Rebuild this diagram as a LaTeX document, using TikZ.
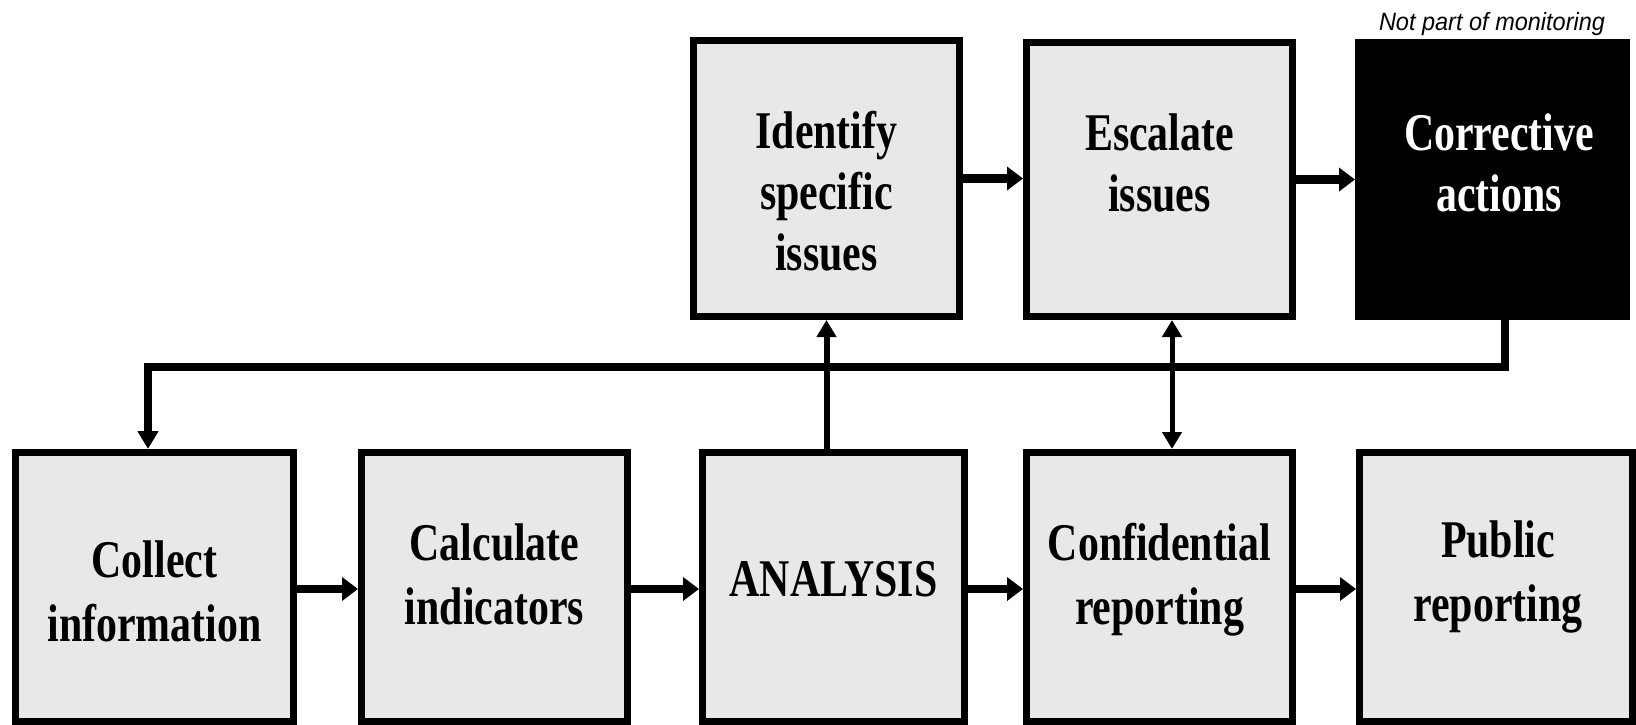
\documentclass[tikz,border=0pt]{standalone}
\usepackage{fontspec}
\newfontfamily\boxfontfam{Liberation Serif}[FakeStretch=0.79]
\newfontfamily\notefontfam{Liberation Sans}[FakeStretch=0.94]
\usetikzlibrary{arrows.meta}
\definecolor{boxgray}{RGB}{232,232,232}
\begin{document}
\begin{tikzpicture}[x=1pt,y=-1pt,
  box/.style={rectangle, draw=black, fill=boxgray, line width=7pt, inner sep=0pt},
  blackbox/.style={box, fill=black},
  lbl/.style={font=\boxfontfam\bfseries\fontsize{53}{61}\selectfont, align=center, anchor=base, inner sep=0pt},
  lblb/.style={lbl, font=\boxfontfam\bfseries\fontsize{53}{64}\selectfont},
  harrow/.style={line width=8.5pt, -{Triangle[length=16pt,width=23pt]}},
  varrow/.style={line width=6pt, -{Triangle[length=17pt,width=19pt]}},
  darrow/.style={line width=5pt, {Triangle[length=17pt,width=19pt]}-{Triangle[length=17pt,width=19pt]}},
  fbline/.style={line width=8.5pt, -{Triangle[length=18pt,width=20pt]}},
  notestyle/.style={font=\notefontfam\itshape\fontsize{25}{30}\selectfont, anchor=base, inner sep=0pt}
]
\useasboundingbox (0,0) rectangle (1636,725);

% top row
\node[box, minimum width=266pt, minimum height=276pt] (ident) at (826.5,178.5) {};
\node[box, minimum width=266pt, minimum height=274pt] (escal) at (1159.5,179.5) {};
\node[blackbox, minimum width=268pt, minimum height=274pt] (corr) at (1492.5,179.5) {};

% bottom row
\node[box, minimum width=278pt, minimum height=269pt] (collect) at (154.5,587) {};
\node[box, minimum width=266pt, minimum height=269pt] (calc) at (494.5,587) {};
\node[box, minimum width=262pt, minimum height=269pt] (anal) at (833.5,587) {};
\node[box, minimum width=266pt, minimum height=269pt] (conf) at (1159.5,587) {};
\node[box, minimum width=273pt, minimum height=269pt] (pub) at (1496,587) {};

% texts (anchor base = baseline of the last line)
\node[lbl] (identt) at (826.5,270) {Identify\\specific\\issues};
\node[lbl] (escalt) at (1159.5,211) {Escalate\\issues};
\node[lbl, text=white] (corrt) at (1499,211) {Corrective\\actions};
\node[lblb] (collectt) at (154.5,641) {Collect\\information};
\node[lblb] (calct) at (494.5,624) {Calculate\\indicators};
\node[lblb] (analt) at (833.5,596) {ANALYSIS};
\node[lblb] (conft) at (1159.5,624) {Confidential\\reporting};
\node[lblb] (pubt) at (1498,621) {Public\\reporting};
\node[notestyle] (note) at (1492,31) {Not part of monitoring};

% horizontal arrows
\draw[harrow] ([yshift=-2pt]collect.east) -- ([yshift=-2pt]calc.west);
\draw[harrow] ([yshift=-2pt]calc.east) -- ([yshift=-2pt]anal.west);
\draw[harrow] ([yshift=-2pt]anal.east) -- ([yshift=-2pt]conf.west);
\draw[harrow] ([yshift=-2pt]conf.east) -- ([yshift=-2pt]pub.west);
\draw[harrow] (ident.east) -- (ident.east -| escal.west);
\draw[harrow] (escal.east) -- (corr.west);

% vertical arrows
\draw[varrow] (anal.north -| ident.south) -- (ident.south);
\draw[darrow] ([xshift=12.5pt]escal.south) -- ([xshift=12.5pt]conf.north);

% feedback loop
\draw[fbline] ([xshift=12.5pt]corr.south) -- ++(0,47) -| ([xshift=-6.5pt]collect.north);
\end{tikzpicture}
\end{document}
